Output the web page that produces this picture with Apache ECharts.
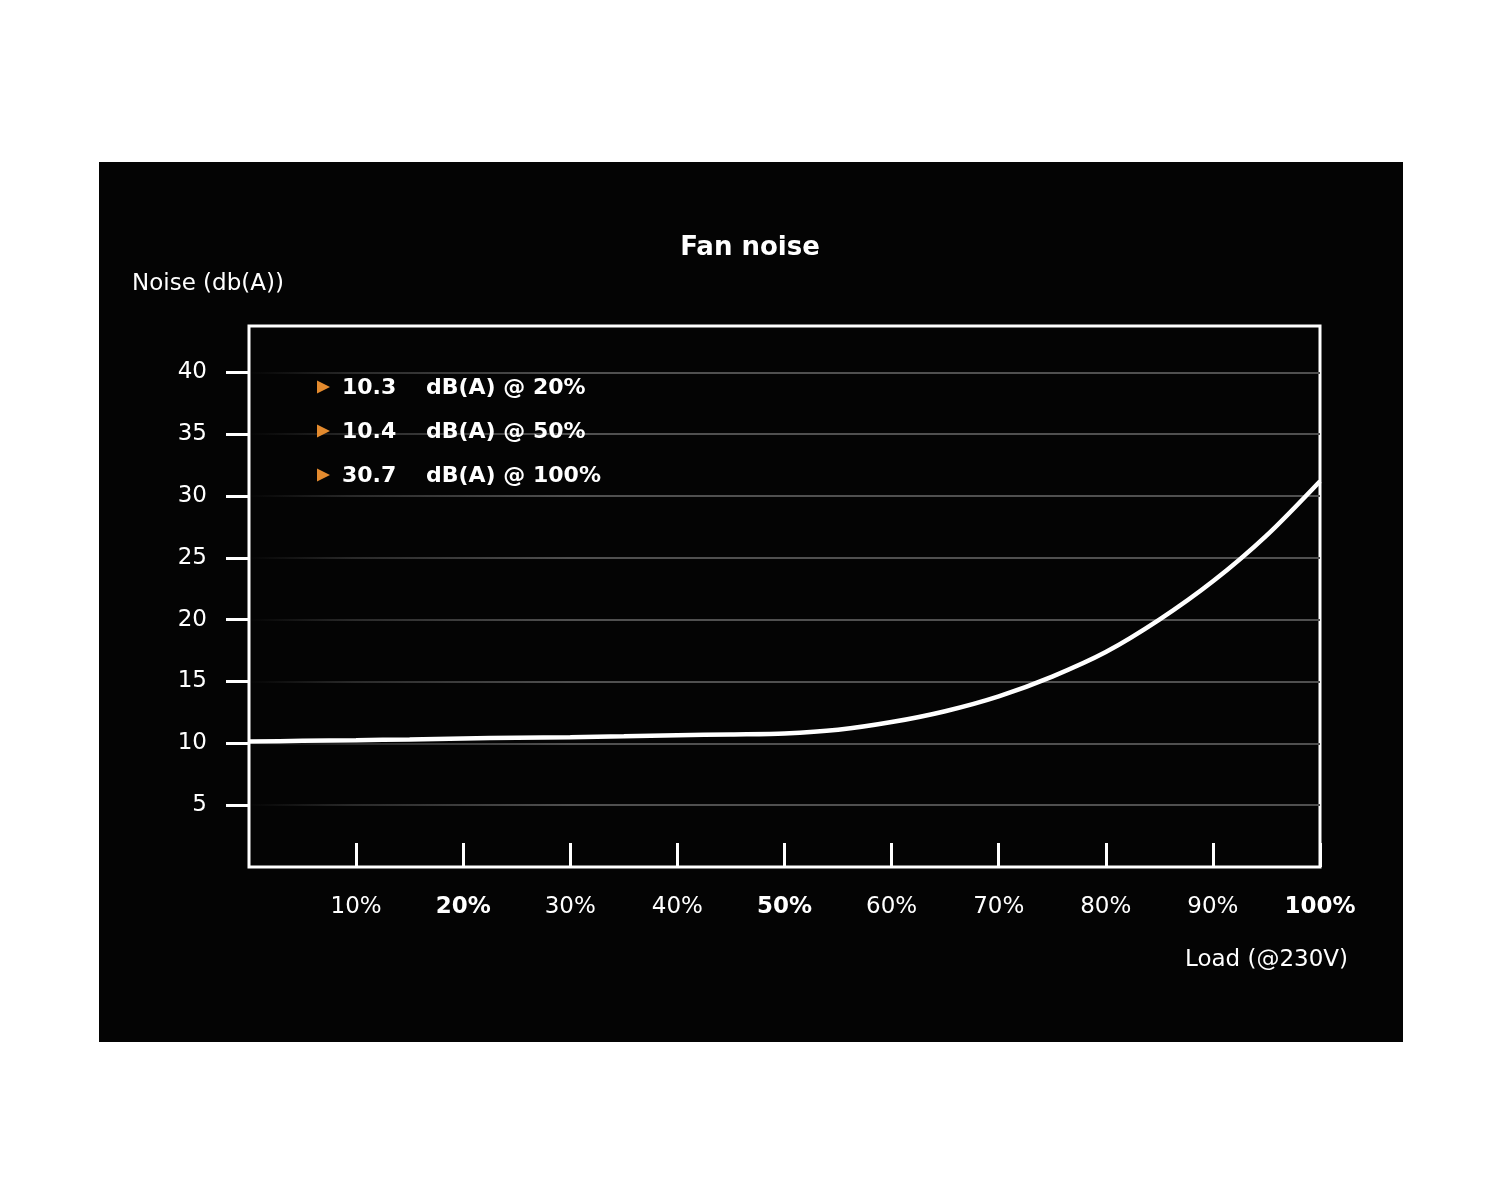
<!DOCTYPE html>
<html>
<head>
<meta charset="utf-8">
<script src="https://cdn.jsdelivr.net/npm/echarts@6/dist/echarts.min.js"></script>
<style>html,body{margin:0;padding:0;background:#fff;}#c{width:1500px;height:1203px;}</style>
</head>
<body>
<div id="c"></div>
<script>
const loads = [0,5,10,15,20,25,30,35,40,45,50,55,60,65,70,75,80,85,90,95,100];
const noise = [10.15,10.2,10.25,10.32,10.4,10.45,10.5,10.57,10.65,10.72,10.8,11.1,11.72,12.6,13.8,15.4,17.38,20.0,23.1,26.8,31.2];
const xTicks = [10,20,30,40,50,60,70,80,90,100];
const boldLoads = [20,50,100];
const yTicks = [5,10,15,20,25,30,35,40];
const legendValues = ['10.3','10.4','30.7'];
const legendLoads = ['20%','50%','100%'];
const titleText = 'Fan noise';
const yName = 'Noise (db(A))';
const xName = 'Load (@230V)';

const FONT = 'DejaVu Sans';
const chart = echarts.init(document.getElementById('c'));

const graphics = [
  { type: 'rect', z: -10, shape: { x: 99, y: 162, width: 1304, height: 880 }, style: { fill: '#040404' }, silent: true },
  { type: 'text', x: 132, y: 284, style: { text: yName, fill: '#fff', font: '23px "' + FONT + '"', textVerticalAlign: 'middle' } },
  { type: 'text', x: 1185, y: 960, style: { text: xName, fill: '#fff', font: '23px "' + FONT + '"', textVerticalAlign: 'middle' } }
];
legendValues.forEach((v, i) => {
  const cy = 387 + i * 44;
  graphics.push({ type: 'polygon', z: 10, shape: { points: [[317, cy - 6.5], [317, cy + 6.5], [330, cy]] }, style: { fill: '#E38A2E' } });
  graphics.push({ type: 'text', z: 10, x: 342, y: cy + 1, style: { text: v, fill: '#fff', font: 'bold 22px "' + FONT + '"', textVerticalAlign: 'middle' } });
  graphics.push({ type: 'text', z: 10, x: 426, y: cy + 1, style: { text: 'dB(A) @ ' + legendLoads[i], fill: '#fff', font: 'bold 22px "' + FONT + '"', textVerticalAlign: 'middle' } });
});

chart.setOption({
  backgroundColor: '#ffffff',
  animation: false,
  title: {
    text: titleText, left: 'center', top: 235, padding: 0,
    textStyle: { color: '#fff', fontFamily: FONT, fontWeight: 'bold', fontSize: 26 }
  },
  grid: {
    left: 249, right: 180, top: 326, bottom: 336,
    show: true, borderColor: '#fff', borderWidth: 3, backgroundColor: 'transparent'
  },
  xAxis: {
    type: 'value', min: 0, max: 100, interval: 10,
    axisLine: { show: false },
    axisTick: { show: true, inside: true, length: 24, lineStyle: { color: '#fff', width: 3 }, customValues: xTicks },
    axisLabel: {
      customValues: xTicks, margin: 29, color: '#fff', fontFamily: FONT, fontSize: 23,
      formatter: v => boldLoads.includes(v) ? '{b|' + v + '%}' : v + '%',
      rich: { b: { fontWeight: 'bold', fontFamily: FONT, fontSize: 23, color: '#fff' } }
    },
    splitLine: { show: false }
  },
  yAxis: {
    type: 'value', min: 0, max: 43.75, interval: 5,
    axisLine: { show: false },
    axisTick: { show: true, inside: false, length: 23, lineStyle: { color: '#fff', width: 3 }, customValues: yTicks },
    axisLabel: { customValues: yTicks, margin: 42, color: '#fff', fontFamily: FONT, fontSize: 23 },
    splitLine: {
      show: true,
      lineStyle: {
        width: 2,
        color: new echarts.graphic.LinearGradient(0, 0, 1, 0, [
          { offset: 0, color: 'rgba(80,80,80,0)' },
          { offset: 0.1, color: 'rgba(80,80,80,0.5)' },
          { offset: 0.3, color: 'rgba(80,80,80,1)' },
          { offset: 1, color: 'rgba(80,80,80,1)' }
        ])
      }
    }
  },
  series: [{
    type: 'line',
    data: loads.map((x, i) => [x, noise[i]]),
    smooth: 0.3,
    symbol: 'none',
    lineStyle: { color: '#fff', width: 4.5 },
    z: 5
  }],
  graphic: graphics
});
</script>
</body>
</html>
